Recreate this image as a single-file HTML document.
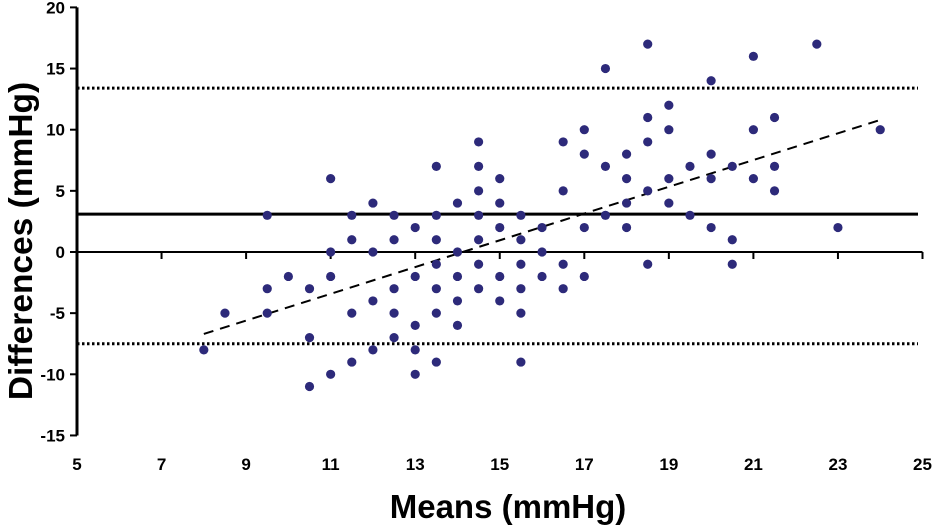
<!DOCTYPE html>
<html><head><meta charset="utf-8"><style>
html,body{margin:0;padding:0;background:#fff;}
svg{display:block;font-family:"Liberation Sans",Arial,sans-serif;}
</style></head><body>
<svg id="chart" width="938" height="525" viewBox="0 0 938 525">
<g id="grid"></g>
<g id="axes"></g>
<g id="pts"></g>
<text x="508" y="518" text-anchor="middle" font-size="33" font-weight="bold">Means (mmHg)</text>
<text transform="translate(32,241) rotate(-90)" text-anchor="middle" font-size="33.5" font-weight="bold">Differences (mmHg)</text>
</svg>
<script>
const xTicks=[5,7,9,11,13,15,17,19,21,23,25];
const yTicks=[20,15,10,5,0,-5,-10,-15];
const meanDiff=3.1;
const upperLoA=13.4;
const lowerLoA=-7.5;
const regStart=[8,-6.7];
const regEnd=[24,10.8];
const xs=[8,8.5,9.5,9.5,9.5,10,10.5,10.5,10.5,11,11,11,11,11.5,11.5,11.5,11.5,12,12,12,12,12.5,12.5,12.5,12.5,12.5,13,13,13,13,13,13.5,13.5,13.5,13.5,13.5,13.5,13.5,14,14,14,14,14,14.5,14.5,14.5,14.5,14.5,14.5,14.5,15,15,15,15,15,15.5,15.5,15.5,15.5,15.5,15.5,16,16,16,16.5,16.5,16.5,16.5,17,17,17,17,17.5,17.5,17.5,18,18,18,18,18.5,18.5,18.5,18.5,18.5,19,19,19,19,19.5,19.5,20,20,20,20,20.5,20.5,20.5,21,21,21,21.5,21.5,21.5,22.5,23,24];
const ys=[-8,-5,3,-3,-5,-2,-3,-7,-11,6,0,-2,-10,3,1,-5,-9,4,0,-4,-8,3,1,-3,-5,-7,2,-2,-6,-8,-10,7,3,1,-1,-3,-5,-9,4,0,-2,-4,-6,9,7,5,3,1,-1,-3,6,4,2,-2,-4,3,1,-1,-3,-5,-9,2,0,-2,9,5,-1,-3,10,8,2,-2,15,7,3,8,6,4,2,17,11,9,5,-1,12,10,6,4,7,3,14,8,6,2,7,1,-1,16,10,6,11,7,5,17,2,10];
const NS="http://www.w3.org/2000/svg";
const X0=77,X1=922.5,Y0=252,PY=12.23;
function sx(v){return X0+(v-5)*(X1-X0)/20;}
function sy(v){return Y0-v*PY;}
function mk(tag,attrs,parent){const e=document.createElementNS(NS,tag);for(const k in attrs)e.setAttribute(k,attrs[k]);parent.appendChild(e);return e;}
const axes=document.getElementById('axes'),grid=document.getElementById('grid'),pts=document.getElementById('pts');
let ya=mk('line',{x1:X0,y1:sy(20),x2:X0,y2:sy(-15),stroke:'#000','stroke-width':3},axes);


yTicks.forEach(t=>{
  let l=mk('line',{x1:X0-7,y1:sy(t),x2:X0,y2:sy(t),stroke:'#000','stroke-width':2},axes);
  
  
  let tx=mk('text',{x:X0-12,y:sy(t)+6,'text-anchor':'end','font-size':17,'font-weight':'bold'},axes);
  tx.textContent=t;
  
  
});
let xa=mk('line',{x1:X0,y1:sy(0),x2:X1,y2:sy(0),stroke:'#000','stroke-width':2},axes);


xTicks.forEach(t=>{
  if(t>5){let l=mk('line',{x1:sx(t),y1:sy(0),x2:sx(t),y2:sy(0)+7,stroke:'#000','stroke-width':2},axes);
  
  }
  let tx=mk('text',{x:sx(t),y:470,'text-anchor':'middle','font-size':17,'font-weight':'bold'},axes);
  tx.textContent=t;
  
  
});
let m=mk('line',{x1:X0,y1:sy(meanDiff),x2:918,y2:sy(meanDiff),stroke:'#000','stroke-width':3},grid);


let u=mk('line',{x1:X0,y1:sy(upperLoA),x2:918,y2:sy(upperLoA),stroke:'#000','stroke-width':3,'stroke-dasharray':'2.5 2.5'},grid);


let lo=mk('line',{x1:X0,y1:sy(lowerLoA),x2:918,y2:sy(lowerLoA),stroke:'#000','stroke-width':3,'stroke-dasharray':'2.5 2.5'},grid);


let r=mk('line',{x1:sx(regStart[0]),y1:sy(regStart[1]),x2:sx(regEnd[0]),y2:sy(regEnd[1]),stroke:'#000','stroke-width':2,'stroke-dasharray':'10 7'},grid);


xs.forEach((x,i)=>{
  let c=mk('circle',{cx:sx(x),cy:sy(ys[i]),r:4.6,fill:'#2d2a7a'},pts);
  
  
});
</script>
</body></html>
